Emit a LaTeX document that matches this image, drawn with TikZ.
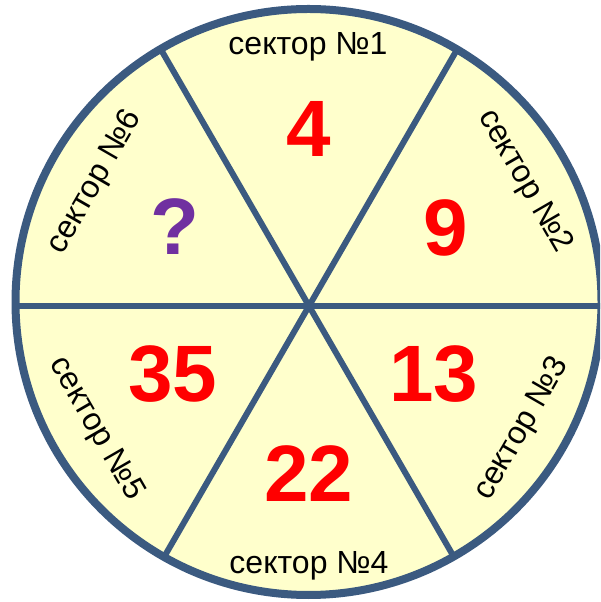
\documentclass[tikz,border=0pt]{standalone}
\usepackage{fontspec}
\setmainfont{Liberation Sans}
\usepackage{xcolor}
\definecolor{wheelfill}{HTML}{FFFFCC}
\definecolor{wheelborder}{HTML}{3B5A80}
\definecolor{numbercolor}{HTML}{FF0000}
\definecolor{questioncolor}{HTML}{7030A0}
\usepackage{tikz}
\usetikzlibrary{calc}
\tikzset{
    rim/.style={
        draw=wheelborder,
        line width=8pt,
    },
    spoke/.style={
        draw=wheelborder,
        line width=6pt,
    },
    sectorlabel/.style={
        text=black,
        inner sep=0pt,
        font=\fontsize{32}{38}\selectfont,
    },
    number/.style={
        text=numbercolor,
        inner sep=0pt,
        font=\fontsize{80}{96}\selectfont\bfseries,
    },
}

\begin{document}
\begin{tikzpicture}[x=1pt,y=1pt]
    \clip (0,0) rectangle (600,602);
    \coordinate (o) at (308.5,300);
    \coordinate (c) at (309,296);
    % wheel
    \fill[wheelfill] (o) circle (293);
    \begin{scope}
        \clip (o) circle (293);
        \foreach \a in {0,60,120} {
            \draw[spoke] ($(c)+(\a:320)$) -- ($(c)+(\a+180:320)$);
        }
    \end{scope}
    \draw[rim] (o) circle (293);
    % sector names
    \node[sectorlabel, anchor=base] (s1) at (308,547) {сектор №1};
    \node[sectorlabel, rotate=-60] (s2) at ($(c)+(30:249)$) {сектор №2};
    \node[sectorlabel, rotate=60] (s3) at ($(c)+(-30:246)$) {сектор №3};
    \node[sectorlabel, anchor=base] (s4) at (309,28) {сектор №4};
    \node[sectorlabel, rotate=-60] (s5) at ($(c)+(210:246)$) {сектор №5};
    \node[sectorlabel, rotate=60] (s6) at ($(c)+(150:247)$) {сектор №6};
    % numbers
    \node[number] (n1) at (309,473) {4};
    \node[number] (n2) at (445.5,374) {9};
    \node[number] (n3) at (433.5,228) {13};
    \node[number] (n4) at (309,128.5) {22};
    \node[number] (n5) at (173,228) {35};
    \node[number, text=questioncolor] (n6) at (174.5,375.5) {?};
\end{tikzpicture}
\end{document}
